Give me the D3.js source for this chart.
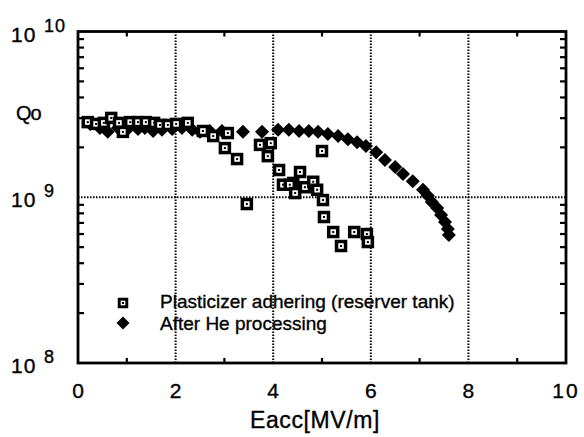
<!DOCTYPE html>
<html><head><meta charset="utf-8">
<script src="https://cdn.jsdelivr.net/npm/d3@7"></script>
<style>body{margin:0;background:#fff}svg{display:block}text{font-family:"Liberation Sans",Arial,Helvetica,sans-serif;fill:#000;stroke:#000;stroke-width:0.35px}</style>
</head><body>
<script>
// Data
const plasticizerE = [0.2,0.37,0.53,0.68,0.84,0.92,1.07,1.23,1.39,1.56,1.68,1.84,2.01,2.25,2.56,2.77,3.07,3.01,3.26,3.46,3.73,3.95,3.89,4.12,4.20,4.41,4.55,4.34,4.45,4.65,4.82,4.90,5.02,5.00,5.04,5.23,5.39,5.66,5.92,5.94];
const plasticizerQ = [2.84e9,2.77e9,2.81e9,3.01e9,2.81e9,2.48e9,2.84e9,2.84e9,2.84e9,2.81e9,2.73e9,2.73e9,2.77e9,2.81e9,2.51e9,2.34e9,2.44e9,1.98e9,1.70e9,9.10e8,2.07e9,2.12e9,1.77e9,1.46e9,1.19e9,1.22e9,1.42e9,1.19e9,1.06e9,1.15e9,1.24e9,1.11e9,9.62e8,1.90e9,7.60e8,6.17e8,5.08e8,6.17e8,6.00e8,5.37e8];
const heE = [0.25,0.45,0.61,0.82,1.02,1.23,1.37,1.54,1.72,1.93,2.13,2.34,2.50,2.70,2.95,3.38,3.77,4.10,4.32,4.53,4.73,4.92,5.12,5.33,5.53,5.72,5.90,6.11,6.29,6.50,6.66,6.86,7.07,7.17,7.25,7.36,7.44,7.52,7.58,7.60];
const heQ = [2.77e9,2.62e9,2.48e9,2.62e9,2.58e9,2.58e9,2.62e9,2.51e9,2.55e9,2.58e9,2.62e9,2.55e9,2.48e9,2.51e9,2.51e9,2.48e9,2.48e9,2.55e9,2.55e9,2.51e9,2.51e9,2.48e9,2.41e9,2.34e9,2.24e9,2.15e9,2.04e9,1.87e9,1.68e9,1.52e9,1.38e9,1.25e9,1.11e9,1.02e9,9.35e8,8.61e8,7.82e8,7.10e8,6.43e8,5.92e8];
const xTicks = [0,2,4,6,8,10];
const xMinor = [1,3,5,7,9];
const yExponents = [10,9,8];
const legendLabels = ["Plasticizer adhering (reserver tank)","After He processing"];
const xTitle = "Eacc[MV/m]";
const yTitle = "Qo";

const W=584,H=437;
const svg=d3.select("body").append("svg").attr("width",W).attr("height",H);
const x=d3.scaleLinear().domain([0,10]).range([78,566]);
const y=d3.scaleLog().domain([1e8,1e10]).range([363,31.5]);
const x0=x.range()[0],x1=x.range()[1],y0=y.range()[0],y1=y.range()[1];

// gridlines (dotted)
const grid=svg.append("g").attr("stroke","#000").attr("stroke-width",2).attr("stroke-dasharray","1.5,1.5");
[2,4,6,8].forEach(v=>grid.append("line").attr("x1",x(v)).attr("x2",x(v)).attr("y1",y1).attr("y2",y0));
grid.append("line").attr("x1",x0).attr("x2",x1).attr("y1",y(1e9)).attr("y2",y(1e9));

// minor ticks
const minorY=[];
[1e8,1e9].forEach(d=>{for(let k=2;k<=9;k++)minorY.push(k*d);});
const tk=svg.append("g").attr("stroke","#000").attr("stroke-width",2.2);
minorY.forEach(v=>{
  tk.append("line").attr("x1",x0).attr("x2",x0+6).attr("y1",y(v)).attr("y2",y(v));
  tk.append("line").attr("x1",x1).attr("x2",x1-6).attr("y1",y(v)).attr("y2",y(v));
});
xMinor.forEach(v=>{
  tk.append("line").attr("x1",x(v)).attr("x2",x(v)).attr("y1",y0).attr("y2",y0-5);
  tk.append("line").attr("x1",x(v)).attr("x2",x(v)).attr("y1",y1).attr("y2",y1+5);
});

// frame
svg.append("rect").attr("x",x0).attr("y",y1).attr("width",x1-x0).attr("height",y0-y1)
  .attr("fill","none").attr("stroke","#000").attr("stroke-width",2.8);

// x tick labels
svg.append("g").selectAll("text").data(xTicks).join("text")
  .attr("x",d=>x(d)).attr("y",398).attr("text-anchor","middle").attr("font-size",21)
  .attr("letter-spacing",d=>d>=10?2:0).text(d=>d);

// y tick labels
yExponents.forEach(e=>{
  const yy=y(Math.pow(10,e));
  const t=svg.append("text").attr("x",11).attr("y",yy+10).attr("font-size",21).attr("letter-spacing",1);
  t.append("tspan").text("10");
  t.append("tspan").attr("x",44).attr("y",yy).attr("font-size",18).text(e);
});

// axis titles
svg.append("text").attr("x",315).attr("y",428).attr("text-anchor","middle").attr("font-size",23).attr("letter-spacing",0.6).text(xTitle);
svg.append("text").attr("x",16).attr("y",120).attr("font-size",20).attr("letter-spacing",-1).text(yTitle);

// markers
function diamond(g,cx,cy,r){g.append("path").attr("d",`M${cx},${cy-r}L${cx+r},${cy}L${cx},${cy+r}L${cx-r},${cy}Z`).attr("fill","#000");}
function square(g,cx,cy,s){
  g.append("rect").attr("x",cx-s/2).attr("y",cy-s/2).attr("width",s).attr("height",s).attr("fill","#000");
  g.append("rect").attr("x",cx-s*0.22).attr("y",cy-s*0.22).attr("width",s*0.44).attr("height",s*0.44).attr("fill","#fff");
  g.append("rect").attr("x",cx-1).attr("y",cy-1).attr("width",2).attr("height",2).attr("fill","#000");
}
const gD=svg.append("g");
heE.forEach((e,i)=>diamond(gD,x(e),y(heQ[i]),7));
const gS=svg.append("g");
plasticizerE.forEach((e,i)=>square(gS,x(e),y(plasticizerQ[i]),12.5));

// legend
const lg=svg.append("g");
square(lg,123,303,10.5);
diamond(lg,123,323,6.5);
lg.append("text").attr("x",160).attr("y",308).attr("font-size",19).text(legendLabels[0]);
lg.append("text").attr("x",160).attr("y",330).attr("font-size",19).text(legendLabels[1]);
</script>
</body></html>
